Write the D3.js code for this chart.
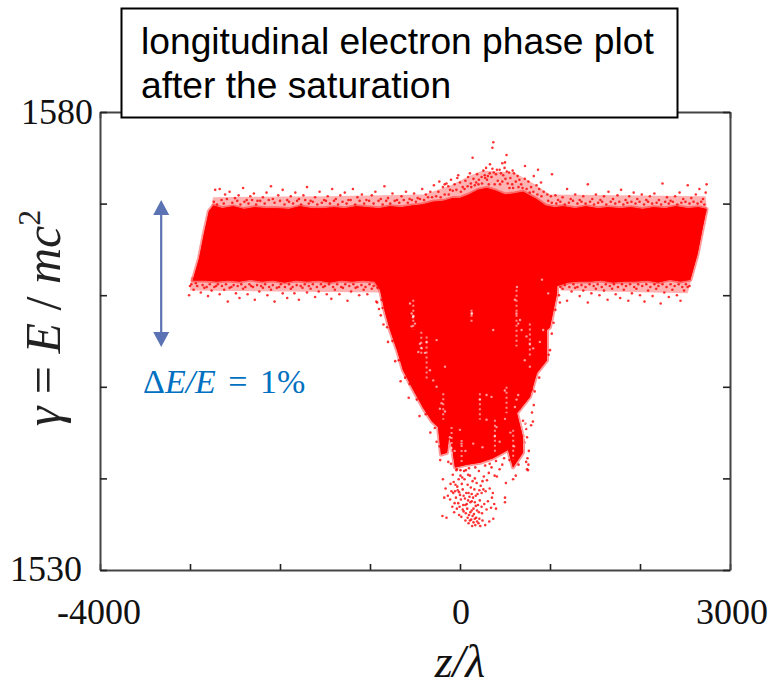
<!DOCTYPE html>
<html><head><meta charset="utf-8">
<script src="https://cdn.jsdelivr.net/npm/d3@7"></script>
<style>html,body{margin:0;background:#fff}svg{display:block}</style></head>
<body><svg id="c" width="771" height="688"></svg>
<script>
const zTicks=[-4000,-3000,-2000,-1000,0,1000,2000,3000];
const gammaTicks=[1530,1540,1550,1560,1570,1580];
const zLabels=[-4000,0,3000];
const gammaLabels=[1530,1580];
const titleLines=["longitudinal electron phase plot","after the saturation"];
const arrowZ=-3320, arrowGamma=[1570.4,1554.35];

// outline of the solid part of the beam (z/lambda, gamma)
const denseOutline=[[-2970,1561.6],[-2900,1564],[-2850,1566.5],[-2790,1569.2],[-2740,1569.8],[-2640,1569.5],[-2520,1569.7],[-2400,1569.4],[-2280,1569.6],[-2150,1569.5],[-2030,1569.5],[-1900,1569.4],[-1780,1569.7],[-1650,1569.5],[-1520,1569.5],[-1400,1569.6],[-1280,1569.5],[-1150,1569.7],[-1030,1569.6],[-900,1569.5],[-780,1569.7],[-650,1569.6],[-530,1569.8],[-420,1569.9],[-300,1570.2],[-180,1570.3],[-80,1570.6],[0,1570.6],[100,1571],[200,1571.5],[300,1571.7],[400,1571.4],[500,1571],[600,1571.1],[700,1571.3],[850,1570.5],[950,1569.8],[1050,1569.6],[1150,1569.7],[1280,1569.5],[1400,1569.7],[1530,1569.5],[1650,1569.6],[1780,1569.5],[1900,1569.6],[2030,1569.4],[2150,1569.6],[2280,1569.5],[2400,1569.7],[2530,1569.5],[2650,1569.6],[2740,1569.4],[2700,1567.5],[2640,1564.5],[2560,1561.7],[2450,1561.5],[2330,1561.7],[2200,1561.4],[2080,1561.6],[1950,1561.5],[1820,1561.5],[1700,1561.4],[1570,1561.6],[1450,1561.5],[1320,1561.5],[1200,1561.4],[1080,1561],[1078,1560.2],[1000,1556.5],[967,1556.2],[967,1552.9],[855,1551.5],[778,1548.9],[633,1547.1],[700,1544.5],[700,1542.8],[589,1541.2],[533,1543.1],[444,1542.6],[367,1542.2],[222,1541.7],[78,1541.5],[-56,1541.2],[-89,1543.4],[-122,1544.5],[-144,1542.8],[-211,1542.6],[-244,1545.6],[-311,1546.2],[-411,1547.7],[-533,1549.9],[-633,1551.8],[-700,1554],[-778,1556.2],[-833,1558.1],[-889,1560.6],[-950,1561.5],[-1080,1561.6],[-1200,1561.5],[-1320,1561.6],[-1450,1561.4],[-1570,1561.6],[-1700,1561.5],[-1820,1561.6],[-1950,1561.4],[-2080,1561.6],[-2200,1561.5],[-2330,1561.7],[-2450,1561.5],[-2580,1561.6],[-2700,1561.5],[-2830,1561.6]];

// envelopes of the thin, speckled rim of the beam
const topRim=[[-2770,1569],[-2745,1570.7],[-1500,1570.8],[-400,1571],[-100,1572],[100,1573],[250,1573.6],[600,1573.4],[800,1572.3],[1000,1571],[2730,1570.8],[2745,1569]];
const bottomRimLeft=[[-2990,1562],[-3000,1560.5],[-900,1560.3],[-860,1561.6]];
const bottomRimRight=[[1090,1561.6],[1120,1560.5],[2530,1560.2],[2570,1561.7]];

// individually estimated electrons outside the solid part
const topFringe=[[-2720,1571.5],[-2670,1571.6],[-2610,1571],[-2560,1571.3],[-2500,1570.6],[-2460,1570.9],[-2410,1571.7],[-2370,1570.4],[-2330,1570.8],[-2290,1571.1],[-2250,1570.3],[-2190,1570.7],[-2150,1571.2],[-2100,1571.9],[-2080,1570.5],[-2020,1570.9],[-1970,1571.5],[-1920,1570.4],[-1880,1570.8],[-1830,1571.2],[-1790,1570.5],[-1740,1570.9],[-1700,1571.8],[-1660,1570.3],[-1610,1570.7],[-1560,1571.3],[-1510,1570.4],[-1470,1570.8],[-1420,1571.6],[-1380,1570.5],[-1330,1570.9],[-1280,1571.2],[-1240,1570.4],[-1190,1571.6],[-1140,1570.7],[-1090,1571],[-1040,1570.4],[-980,1570.9],[-940,1571.3],[-880,1570.5],[-840,1571.9],[-800,1570.6],[-750,1571.1],[-700,1570.4],[-650,1570.8],[-600,1571.3],[-560,1570.5],[-510,1571.1],[-470,1570.6],[-420,1571.6],[-380,1571],[-330,1571.3],[-290,1572],[-240,1571.3],[-190,1571.8],[-150,1572.2],[-110,1571.5],[1060,1570.9],[1090,1570.4],[1140,1570.7],[1190,1571.6],[1230,1570.5],[1280,1571],[1330,1570.4],[1370,1570.8],[1420,1572.1],[1470,1570.5],[1510,1571],[1560,1570.4],[1600,1570.8],[1650,1571.3],[1700,1570.5],[1750,1570.9],[1790,1571.5],[1840,1570.4],[1880,1570.8],[1930,1571.2],[1970,1570.5],[2020,1571],[2070,1570.4],[2110,1570.8],[2160,1571.1],[2210,1570.4],[2250,1572.2],[2300,1570.7],[2340,1570.3],[2390,1570.8],[2440,1571.2],[2480,1570.5],[2530,1572],[2570,1570.6],[2620,1571],[2660,1571.6],[2700,1570.5],[2740,1572.1],[2730,1571.2]];
const topFringeInner=[[-2735,1570.2],[-2700,1569.9],[-2650,1570.4],[-2625,1570],[-2590,1570.5],[-2530,1570.1],[-2475,1570.3],[-2440,1569.9],[-2395,1570.2],[-2350,1570],[-2310,1570.4],[-2265,1569.9],[-2220,1570.3],[-2170,1570],[-2125,1570.4],[-2060,1570.1],[-2000,1570.3],[-1950,1569.9],[-1900,1570.2],[-1855,1570],[-1810,1570.3],[-1765,1569.9],[-1720,1570.4],[-1680,1570],[-1635,1570.2],[-1585,1569.9],[-1535,1570.1],[-1490,1570.3],[-1445,1570],[-1400,1570.3],[-1355,1569.9],[-1305,1570.2],[-1260,1570],[-1215,1570.4],[-1165,1569.9],[-1115,1570.3],[-1065,1570],[-1010,1570.3],[-960,1570],[-905,1570.3],[-860,1569.9],[-820,1570.3],[-775,1570],[-725,1570.3],[-675,1570.1],[-625,1570.4],[-580,1570.1],[-535,1570.4],[-490,1570.2],[-445,1570.5],[-400,1570.4],[-355,1570.7],[-310,1570.7],[-265,1570.8],[-215,1570.7],[-170,1571],[-125,1571],[980,1570.3],[1020,1570.1],[1070,1570],[1115,1570.2],[1165,1569.9],[1210,1570.1],[1255,1570.3],[1305,1570],[1350,1570.2],[1395,1570],[1445,1570.2],[1490,1569.9],[1535,1570.1],[1580,1570.2],[1625,1569.9],[1675,1570.2],[1725,1570],[1770,1570.2],[1815,1569.9],[1860,1570.1],[1905,1570.2],[1950,1570],[1995,1570.2],[2045,1569.9],[2090,1570.2],[2135,1570],[2185,1570.1],[2235,1569.9],[2280,1570.2],[2320,1570],[2365,1570.2],[2415,1569.9],[2460,1570.1],[2505,1570.2],[2550,1570],[2595,1570.2],[2640,1570],[2680,1570.2],[2715,1569.9]];
const bottomFringe=[[-3000,1561],[-2960,1560.6],[-3010,1560],[-2920,1561],[-2880,1560.3],[-2840,1560.8],[-2800,1559.9],[-2760,1560.5],[-2710,1561],[-2670,1560.1],[-2620,1560.6],[-2580,1559.3],[-2540,1560.9],[-2490,1560.2],[-2450,1559.7],[-2410,1560.7],[-2360,1560.1],[-2320,1561],[-2280,1559.5],[-2230,1560.4],[-2190,1560.8],[-2140,1560],[-2100,1560.6],[-2060,1559.3],[-2010,1560.9],[-1970,1560.2],[-1920,1559.7],[-1880,1560.7],[-1840,1560.2],[-1790,1559.5],[-1750,1560.8],[-1700,1560.3],[-1660,1560.7],[-1610,1559.8],[-1570,1560.4],[-1520,1560.9],[-1480,1560.1],[-1430,1559.6],[-1390,1560.6],[-1340,1560.1],[-1300,1560.8],[-1250,1559.4],[-1210,1560.4],[-1160,1560.8],[-1120,1560],[-1070,1560.6],[-1030,1560.1],[-980,1560.7],[-930,1559.3],[-900,1558.5],[-870,1559.5],[1100,1560],[1140,1560.7],[1190,1559.4],[1240,1560.4],[1280,1560.8],[1330,1559.9],[1370,1560.5],[1420,1559.2],[1460,1560.2],[1510,1560.7],[1550,1560],[1600,1560.5],[1640,1559.5],[1690,1560.7],[1730,1560.1],[1780,1559.7],[1820,1560.6],[1870,1559.4],[1910,1560.2],[1960,1560.7],[2000,1560],[2050,1559.3],[2090,1560.5],[2140,1559.9],[2180,1560.7],[2230,1559.1],[2270,1560.3],[2320,1559.8],[2360,1560.6],[2410,1560],[2450,1559.4],[2490,1560.5],[2530,1560.9]];
const bottomFringeInner=[[-2985,1561.2],[-2935,1561.3],[-2860,1561.1],[-2815,1560.9],[-2780,1561.2],[-2730,1560.9],[-2690,1561.2],[-2645,1561],[-2600,1561.2],[-2560,1560.8],[-2515,1561.1],[-2470,1561],[-2430,1561.2],[-2385,1560.9],[-2340,1561.2],[-2300,1560.9],[-2255,1561.1],[-2210,1561],[-2165,1561.2],[-2120,1560.9],[-2080,1561.1],[-2035,1560.8],[-1990,1561.2],[-1945,1560.9],[-1900,1561.2],[-1860,1560.9],[-1815,1561.1],[-1770,1561],[-1725,1561.2],[-1680,1561],[-1635,1561.2],[-1590,1560.9],[-1545,1561.2],[-1500,1561],[-1455,1561.2],[-1410,1560.9],[-1365,1561.2],[-1320,1560.9],[-1275,1561.2],[-1230,1561],[-1185,1561.2],[-1140,1560.9],[-1095,1561.1],[-1050,1560.9],[-1005,1561.2],[-960,1561],[-915,1560.8],[1115,1560.9],[1165,1561.1],[1215,1560.9],[1260,1561.2],[1305,1560.9],[1350,1561.1],[1395,1560.9],[1440,1561.2],[1485,1561],[1530,1561.2],[1575,1560.9],[1620,1561.2],[1665,1561],[1710,1561.2],[1755,1560.9],[1800,1561.2],[1845,1561],[1890,1561.2],[1935,1560.9],[1980,1561.2],[2025,1561],[2070,1561.2],[2115,1560.9],[2160,1561.2],[2205,1561],[2250,1561.2],[2295,1560.9],[2340,1561.2],[2385,1561],[2430,1561.2],[2470,1560.9],[2510,1561.2],[2550,1561]];
const humpCloud=[[370,1576.7],[360,1576.1],[140,1575],[517,1575.3],[470,1574.4],[500,1574.5],[722,1574.1],[333,1574.3],[867,1573.7],[1022,1573.2],[260,1573.6],[290,1573.9],[330,1573.3],[360,1573.8],[400,1573.2],[440,1573.7],[480,1573.1],[520,1573.5],[560,1572.8],[600,1573.3],[640,1573],[300,1572.6],[350,1572.9],[420,1572.5],[470,1572.4],[530,1572.2],[580,1572.1],[620,1572.4],[680,1572.1],[720,1572.7],[760,1572.4],[790,1571.8],[820,1573],[850,1572],[880,1571.6],[900,1572.3],[930,1571.3],[970,1571],[1010,1570.8],[-100,1572.6],[-60,1572.1],[-30,1572.8],[0,1572.3],[30,1571.8],[60,1572.5],[90,1572.9],[120,1572.2],[150,1572.7],[180,1572.3],[210,1572.6],[240,1572.9],[-170,1572.1],[-230,1572.4],[-130,1571.9],[-20,1573.1],[110,1573.3],[190,1573.2],[-80,1571.4],[-40,1571.5],[10,1571.3],[50,1571.6],[85,1571.9],[125,1571.8],[165,1572],[205,1572.1],[245,1572.2],[280,1572.8],[320,1572.1],[385,1572.1],[445,1572.1],[505,1572.7],[550,1571.7],[590,1571.7],[650,1571.8],[695,1571.7],[740,1571.6],[775,1571.2],[815,1571.3],[860,1571],[905,1570.8],[275,1573.1],[310,1573],[375,1573.4],[410,1573.7],[455,1573.3],[495,1573.9],[545,1573.4],[585,1573.6],[660,1572.6]];
const lowerBlob=[[-190,1539.9],[-160,1538.9],[-175,1537.9],[-135,1538.1],[-195,1535.9],[-150,1535.7],[-110,1537.7],[-95,1538.6],[-105,1539.4],[-80,1540.4],[-70,1539.6],[-75,1538.4],[-60,1537.3],[-85,1536.9],[-65,1536.3],[-45,1537.9],[-40,1540.9],[-30,1539.1],[-25,1538.7],[-35,1536.7],[-20,1537.3],[-10,1536],[5,1540.3],[0,1538.2],[10,1537.7],[15,1535.8],[20,1539.4],[30,1538.8],[35,1537.1],[40,1536.4],[45,1540.8],[50,1539.9],[55,1537.8],[60,1535.4],[70,1538.4],[75,1537.2],[80,1536.7],[85,1539.3],[90,1540.4],[95,1535.1],[100,1536],[105,1538],[115,1537.4],[120,1539],[125,1535.5],[130,1536.5],[135,1534.8],[145,1537.9],[150,1535.2],[155,1536.1],[160,1538.8],[165,1540],[170,1534.9],[175,1537],[180,1535.7],[190,1536.5],[195,1538.3],[205,1535.1],[210,1540.8],[220,1537.6],[225,1534.8],[230,1539.2],[240,1538.4],[245,1536.2],[250,1535.4],[260,1538.8],[265,1540.2],[270,1537.2],[280,1534.9],[285,1538.6],[295,1536.6],[300,1539.8],[310,1537.5],[325,1535.3],[330,1538.9],[345,1536.8],[355,1537.9],[365,1538.4],[370,1535.6],[380,1537.2],[400,1536.7],[320,1540.6],[350,1541.2],[385,1540.3],[510,1539.5],[500,1537.9],[500,1537.4],[-50,1539.3],[-15,1539.9],[25,1540.1],[65,1540.9],[110,1540.3],[140,1539.7],[185,1539.5],[250,1539.7],[-55,1538.6],[-10,1538.5],[40,1538.1],[95,1538.4],[130,1538.3],[175,1538.1],[215,1538.7],[60,1537.1],[90,1537.6],[130,1537.5],[165,1537.4],[200,1537.1],[-5,1536.9],[30,1536.6],[65,1536.2],[115,1536.3],[150,1536.7],[210,1536.3],[240,1536.9],[85,1535.7],[110,1535.4],[165,1535.6],[190,1535.3],[215,1535.6],[140,1535.9]];
const plumeEdge=[[760,1541.5],[750,1542.2],[745,1541],[755,1540.9],[735,1541.8],[765,1543],[650,1541.5],[620,1540.3],[590,1539.9],[550,1542],[470,1541.5],[440,1541],[410,1540.2],[-220,1542],[-130,1541.8],[-100,1541.6],[830,1549.5],[820,1548],[800,1547.2],[790,1545.8],[810,1546.2],[725,1546],[745,1544.5],[690,1543],[1000,1554],[1020,1555.8],[1040,1557],[1060,1558.4],[1110,1559.2],[-920,1559.2],[-880,1557.8],[-850,1556.8],[-800,1554.9],[-720,1552.8],[-660,1550.6],[-570,1548.8],[-450,1546.8],[-330,1545],[-35,1541],[5,1540.9],[100,1541.1],[170,1541.2],[280,1541.4],[330,1541.6],[400,1541.9],[490,1542.2],[610,1542.5],[650,1543],[720,1543.9],[735,1545.4],[700,1546.3],[660,1547.6],[800,1549.7],[880,1551],[985,1553.5],[-860,1558.6],[-810,1556.5],[-750,1555],[-680,1552.9],[-610,1551],[-560,1550.3],[-480,1548.6],[-380,1547],[-280,1545.5],[-260,1544],[-225,1543.5]];
// pale gaps seen inside the plume
const plumeGaps=[[-537,1558],[-519,1557.7],[-555,1559.1],[-522,1557.6],[-500,1556.9],[-537,1556.6],[-445,1554.7],[-427,1554.2],[-463,1553.8],[-390,1553.7],[-371,1554.9],[-334,1551.8],[-297,1550.7],[-260,1550],[-205,1548.2],[-167,1547.3],[-223,1547.6],[-112,1544.5],[-1,1545.3],[17,1543.8],[147,1543.8],[295,1549.1],[221,1548.6],[350,1548.9],[406,1545.6],[387,1544.6],[295,1546.4],[498,1549.6],[628,1548.6],[610,1547.8],[647,1549.1],[739,1547.3],[628,1558],[610,1559.5],[647,1556.9],[684,1556.2],[776,1554.7],[813,1554.2],[739,1555.5],[720,1552.9],[776,1552.2],[128,1558],[133,1558],[369,1556.2],[-167,1552.2],[-260,1555.1],[924,1556.2],[887,1554.9],[980,1560.2],[911,1561.7],[633,1560.9],[667,1557.3],[-60,1543],[60,1543],[250,1543.4],[440,1544],[560,1545],[600,1543.5],[500,1546.5]];
// pale vertical strands inside the plume: z, gamma top, gamma bottom
const plumeStrands=[[-94,1545.6,1542.7],[18,1544.2,1541.6],[388,1546.4,1542.7],[591,1545.3,1542],[720,1547.8,1543.5],[517,1550,1547.1],[628,1560.6,1554.4],[776,1556.9,1553.3],[-519,1559.5,1556.2],[-371,1555.5,1550.7],[-186,1549.3,1546.4],[221,1549.3,1546.4],[128,1558.4,1556.9],[-430,1556,1553.5]];

const svg=d3.select("#c");
const x=d3.scaleLinear().domain([-4000,3000]).range([100,730]);
const y=d3.scaleLinear().domain([1530,1580]).range([570,112]);
const RED="#ff0000", AXIS="#444";
const poly=d3.line().x(d=>x(d[0])).y(d=>y(d[1])).curve(d3.curveLinearClosed);

// beam: rim envelopes, solid part, then the single electrons
[topRim,bottomRimLeft,bottomRimRight].forEach(s=>{
  svg.append("path").datum(s).attr("d",poly).attr("fill",RED).attr("fill-opacity",.3);
});
svg.append("path").datum(denseOutline).attr("d",poly).attr("fill",RED)
  .attr("stroke",RED).attr("stroke-opacity",.4).attr("stroke-width",4).attr("stroke-linejoin","round");
svg.append("path").datum(denseOutline).attr("d",poly).attr("fill",RED);
[topFringe,topFringeInner,bottomFringe,bottomFringeInner,humpCloud,lowerBlob,plumeEdge].forEach(s=>{
  svg.append("g").selectAll("circle").data(s).join("circle")
    .attr("cx",d=>x(d[0])).attr("cy",d=>y(d[1])).attr("r",1.3)
    .attr("fill",RED).attr("fill-opacity",.8);
});
svg.append("g").selectAll("line").data(plumeStrands).join("line")
  .attr("x1",d=>x(d[0])).attr("x2",d=>x(d[0])).attr("y1",d=>y(d[1])).attr("y2",d=>y(d[2]))
  .attr("stroke","#fff").attr("stroke-opacity",.55).attr("stroke-width",2).attr("stroke-dasharray","2 3");
svg.append("g").selectAll("circle").data(plumeGaps).join("circle")
  .attr("cx",d=>x(d[0])).attr("cy",d=>y(d[1])).attr("r",1.2)
  .attr("fill","#fff").attr("fill-opacity",.6);

// frame and inside ticks
const styleAxis=g=>{g.selectAll("path").attr("stroke",AXIS).attr("stroke-width",2);
  g.selectAll("line").attr("stroke","#222").attr("stroke-width",1.6);g.selectAll("text").remove();};
svg.append("g").attr("transform","translate(0,570)").call(d3.axisTop(x).tickValues(zTicks).tickSize(6).tickSizeOuter(0)).call(styleAxis);
svg.append("g").attr("transform","translate(0,112)").call(d3.axisBottom(x).tickValues(zTicks).tickSize(6).tickSizeOuter(0)).call(styleAxis);
svg.append("g").attr("transform","translate(100,0)").call(d3.axisRight(y).tickValues(gammaTicks).tickSize(7).tickSizeOuter(0)).call(styleAxis);
svg.append("g").attr("transform","translate(730,0)").call(d3.axisLeft(y).tickValues(gammaTicks).tickSize(7).tickSizeOuter(0)).call(styleAxis);

// tick labels
const SERIF="'Liberation Serif',serif", SANS="'Liberation Sans',sans-serif";
svg.selectAll(".zl").data(zLabels).join("text").attr("class","zl")
  .attr("x",d=>d===-4000?x(d)-1:d===3000?x(d)+2:x(d)+1).attr("y",624)
  .attr("text-anchor","middle").attr("font-family",SERIF).attr("font-size",36).attr("fill","#111").text(d=>d);
svg.selectAll(".gl").data(gammaLabels).join("text").attr("class","gl")
  .attr("x",d=>d===1580?93:82).attr("y",d=>d===1580?124:581)
  .attr("text-anchor","end").attr("font-family",SERIF).attr("font-size",36).attr("fill","#111").text(d=>d);

// axis titles
svg.append("text").attr("x",460).attr("y",677).attr("text-anchor","middle")
  .attr("font-family",SERIF).attr("font-size",46).attr("font-style","italic").attr("fill","#111").text("z/λ");
const yt=svg.append("text").attr("transform","translate(60,318) rotate(-90)").attr("text-anchor","middle")
  .attr("font-family",SERIF).attr("font-size",50).attr("fill","#222");
yt.append("tspan").attr("font-style","italic").text("γ");
yt.append("tspan").text(" = ");
yt.append("tspan").attr("font-style","italic").text("E");
yt.append("tspan").text(" / ");
yt.append("tspan").attr("font-style","italic").text("mc");
yt.append("tspan").attr("font-size",32).attr("dy",-20).text("2");

// arrow
const BLUE="#5b72b4";
const ax=x(arrowZ), y0=y(arrowGamma[0]), y1=y(arrowGamma[1]);
svg.append("line").attr("x1",ax).attr("x2",ax).attr("y1",y0+10).attr("y2",y1-10).attr("stroke",BLUE).attr("stroke-width",2.2);
svg.append("path").attr("d",d3.line()([[ax,y0],[ax-8,y0+15],[ax+8,y0+15]])+"Z").attr("fill",BLUE);
svg.append("path").attr("d",d3.line()([[ax,y1],[ax-8,y1-15],[ax+8,y1-15]])+"Z").attr("fill",BLUE);
const note=svg.append("text").attr("x",143).attr("y",393).attr("font-family",SERIF).attr("font-size",34)
  .attr("word-spacing",4).attr("fill","#0070c0");
note.append("tspan").text("Δ");
note.append("tspan").attr("font-style","italic").text("E/E");
note.append("tspan").text(" = 1%");

// title box
svg.append("rect").attr("x",121.5).attr("y",8.5).attr("width",556).attr("height",109).attr("fill","#fff").attr("stroke","#000").attr("stroke-width",2);
svg.selectAll(".tt").data(titleLines).join("text").attr("class","tt")
  .attr("x",141).attr("y",(d,i)=>54+i*44).attr("font-family",SANS).attr("font-size",37.2).attr("fill","#000").text(d=>d);
</script></body></html>
